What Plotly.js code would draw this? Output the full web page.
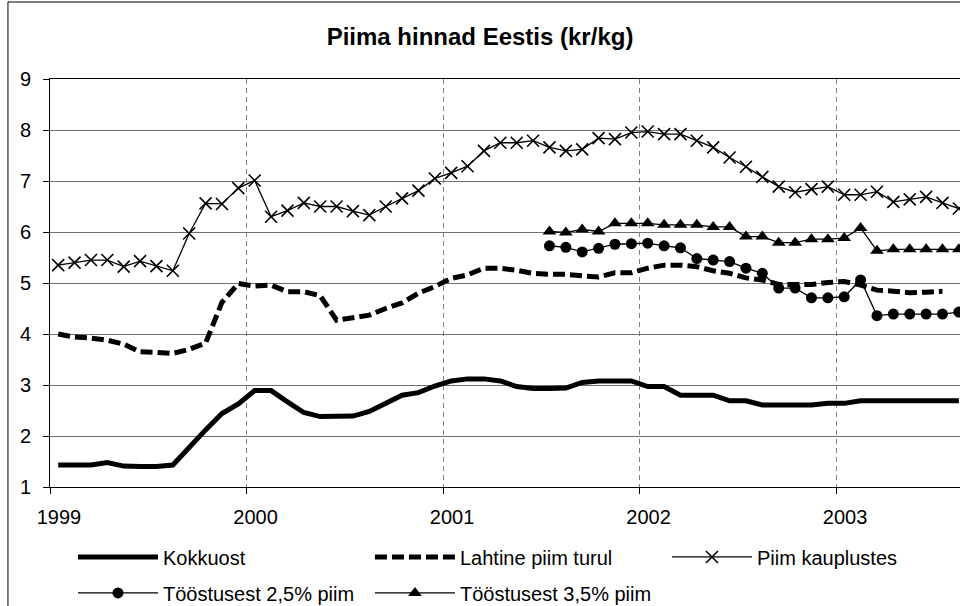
<!DOCTYPE html>
<html>
<head>
<meta charset="utf-8">
<script src="https://cdn.plot.ly/plotly-3.0.1.min.js"></script>
<style>html,body{margin:0;padding:0;background:#fff;}#chart{width:960px;height:606px;}</style>
</head>
<body>
<div id="chart"></div>
<script>
// Monthly categories, Jan 1999 .. Aug 2003
var months = [
 "1999-01","1999-02","1999-03","1999-04","1999-05","1999-06","1999-07","1999-08","1999-09","1999-10","1999-11","1999-12",
 "2000-01","2000-02","2000-03","2000-04","2000-05","2000-06","2000-07","2000-08","2000-09","2000-10","2000-11","2000-12",
 "2001-01","2001-02","2001-03","2001-04","2001-05","2001-06","2001-07","2001-08","2001-09","2001-10","2001-11","2001-12",
 "2002-01","2002-02","2002-03","2002-04","2002-05","2002-06","2002-07","2002-08","2002-09","2002-10","2002-11","2002-12",
 "2003-01","2003-02","2003-03","2003-04","2003-05","2003-06","2003-07","2003-08"
];
var yearLabels = ["1999","2000","2001","2002","2003"];

var kokkuost = [1.43,1.43,1.43,1.48,1.41,1.40,1.40,1.43,1.79,2.12,2.44,2.63,
 2.89,2.89,2.67,2.46,2.38,2.38,2.39,2.48,2.64,2.80,2.85,2.98,
 3.08,3.12,3.12,3.08,2.97,2.93,2.93,2.94,3.05,3.08,3.08,3.08,
 2.97,2.97,2.80,2.80,2.80,2.69,2.69,2.61,2.61,2.61,2.61,2.64,
 2.64,2.69,2.69,2.69,2.69,2.69,2.69,2.69];

var lahtine = [4.00,3.94,3.92,3.88,3.80,3.65,3.64,3.62,3.70,3.82,4.62,4.99,
 4.94,4.96,4.83,4.83,4.75,4.27,4.32,4.37,4.50,4.61,4.80,4.93,
 5.09,5.16,5.29,5.29,5.25,5.19,5.17,5.17,5.14,5.12,5.20,5.20,
 5.29,5.35,5.35,5.32,5.24,5.19,5.10,5.06,4.97,4.97,4.97,5.01,
 5.03,4.96,4.86,4.84,4.81,4.82,4.84,null];

var kauplustes = [5.35,5.40,5.45,5.45,5.32,5.43,5.33,5.24,5.97,6.56,6.55,6.86,
 7.01,6.30,6.42,6.57,6.50,6.50,6.41,6.33,6.50,6.66,6.81,7.05,
 7.16,7.29,7.59,7.75,7.75,7.79,7.66,7.59,7.62,7.84,7.82,7.95,
 7.97,7.92,7.92,7.79,7.66,7.46,7.28,7.08,6.89,6.78,6.84,6.89,
 6.73,6.73,6.79,6.59,6.64,6.69,6.57,6.46];

var toostus25 = [null,null,null,null,null,null,null,null,null,null,null,null,
 null,null,null,null,null,null,null,null,null,null,null,null,
 null,null,null,null,null,null,5.73,5.70,5.61,5.68,5.76,5.77,
 5.78,5.73,5.69,5.48,5.45,5.42,5.29,5.19,4.90,4.90,4.71,4.71,
 4.73,5.06,4.36,4.39,4.39,4.39,4.39,4.43];

var toostus35 = [null,null,null,null,null,null,null,null,null,null,null,null,
 null,null,null,null,null,null,null,null,null,null,null,null,
 null,null,null,null,null,null,6.01,5.99,6.05,6.01,6.17,6.17,
 6.17,6.14,6.14,6.14,6.10,6.10,5.91,5.91,5.79,5.79,5.86,5.86,
 5.88,6.08,5.63,5.66,5.66,5.66,5.66,5.66];

var xIdx = months.map(function(m, i){ return i; });
var yearTickVals = yearLabels.map(function(y){ return months.indexOf(y + "-01") - 0.5; });

var FONT = '"Liberation Sans", Arial, Helvetica, sans-serif';

var traces = [
 {name:"Kokkuost", x:xIdx, y:kokkuost, text:months, mode:"lines", line:{color:"#000", width:5}, legend:"legend"},
 {name:"Lahtine piim turul", x:xIdx, y:lahtine, text:months, mode:"lines", line:{color:"#000", width:5, dash:"12px,5px"}, legend:"legend"},
 {name:"Piim kauplustes", x:xIdx, y:kauplustes, text:months, mode:"lines+markers", line:{color:"#000", width:1.3},
  marker:{symbol:"x-thin", size:12, color:"#000", line:{width:1.6, color:"#000"}}, legend:"legend"},
 {name:"Tööstusest 2,5% piim", x:xIdx, y:toostus25, text:months, mode:"lines+markers", line:{color:"#000", width:1.3},
  marker:{symbol:"circle", size:11, color:"#000"}, legend:"legend2"},
 {name:"Tööstusest 3,5% piim", x:xIdx, y:toostus35, text:months, mode:"lines+markers", line:{color:"#000", width:1.3},
  marker:{symbol:"triangle-up", size:12, color:"#000"}, legend:"legend2"}
];

var legendCommon = {
 orientation:"h", xref:"container", yref:"container", xanchor:"left", yanchor:"middle",
 font:{family:FONT, size:20, color:"#000"}, bgcolor:"rgba(0,0,0,0)", borderwidth:0,
 entrywidth:202, entrywidthmode:"pixels", itemwidth:80, traceorder:"normal"
};

var layout = {
 width:960, height:606,
 margin:{l:50, r:0, t:79, b:119, pad:0},
 paper_bgcolor:"#fff", plot_bgcolor:"#fff",
 font:{family:FONT, size:20, color:"#000"},
 title:{text:"<b>Piima hinnad Eestis (kr/kg)</b>", font:{family:FONT, size:24, color:"#000"},
   xref:"container", x:0.5, xanchor:"center", yref:"container", y:0.939, yanchor:"middle"},
 xaxis:{
   range:[-0.5, 55.07], tickmode:"array", tickvals:yearTickVals, ticktext:yearLabels,
   ticklabelshift:9, ticklabelstandoff:6,
   ticks:"outside", ticklen:6, tickcolor:"#000", tickwidth:1,
   showline:true, linecolor:"#000", linewidth:1, mirror:true,
   showgrid:true, gridcolor:"#808080", gridwidth:1, griddash:"5px,4px",
   zeroline:false, tickfont:{family:FONT, size:20, color:"#000"}, fixedrange:true
 },
 yaxis:{
   range:[1, 9], tickmode:"linear", tick0:1, dtick:1,
   ticks:"outside", ticklen:6, tickcolor:"#000", tickwidth:1, ticklabelstandoff:8,
   showline:true, linecolor:"#000", linewidth:1,
   showgrid:true, gridcolor:"#6e6e6e", gridwidth:1,
   zeroline:false, tickfont:{family:FONT, size:20, color:"#000"}, fixedrange:true
 },
 legend:Object.assign({}, legendCommon, {x:0.076, y:0.0809}),
 legend2:Object.assign({}, legendCommon, {x:0.076, y:0.0215}),
 shapes:[
   {type:"rect", xref:"paper", yref:"paper", x0:-0.0462, x1:1.02, y0:-0.35, y1:1.1887,
    line:{color:"#000", width:1}, fillcolor:"rgba(0,0,0,0)", layer:"above"}
 ],
 showlegend:true
};

Plotly.newPlot("chart", traces, layout, {staticPlot:true, displayModeBar:false});
</script>
</body>
</html>
